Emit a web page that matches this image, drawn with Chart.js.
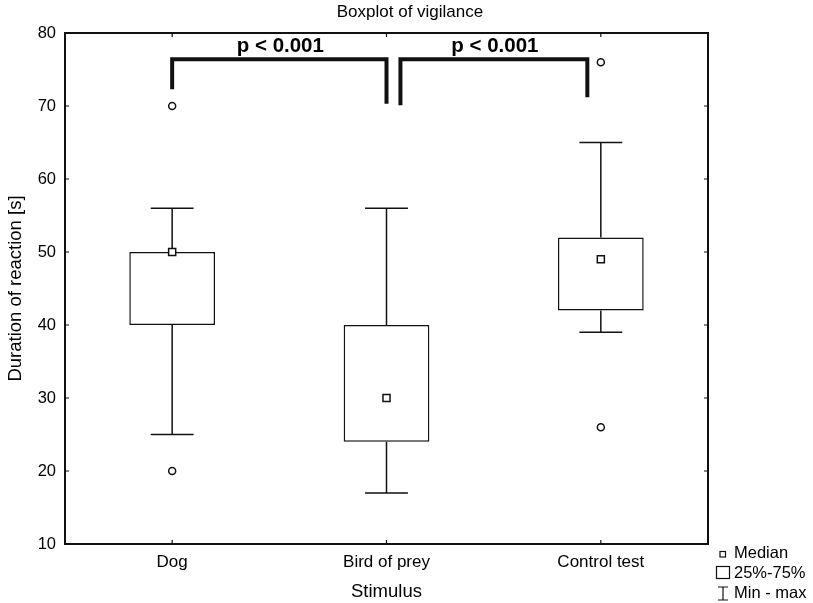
<!DOCTYPE html>
<html>
<head>
<meta charset="utf-8">
<script src="https://cdn.jsdelivr.net/npm/chart.js@4.4.0/dist/chart.umd.min.js"></script>
<style>
  body { margin: 0; background: #fff; }
  canvas { display: block; }
</style>
</head>
<body>
<canvas id="boxChart" width="813" height="603"></canvas>
<script>
// values
const categories = ['Dog', 'Bird of prey', 'Control test'];
const minVals = [25, 17, 39];
const q1Vals = [40, 24, 42];
const medianVals = [50, 30, 49];
const q3Vals = [50, 40, 52];
const maxVals = [56, 56, 65];
const outlierVals = [[70, 20], [], [76, 26]];
const yTicks = [10, 20, 30, 40, 50, 60, 70, 80];

// significance brackets (x in category index units, y in seconds)
const bracketFrom = [0, 1.065];
const bracketTo = [1.0, 1.937];
const bracketTop = [76.4, 76.4];
const bracketLeftEnd = [72.3, 70.1];
const bracketRightEnd = [70.3, 71.2];
const bracketText = ['p < 0.001', 'p < 0.001'];

const legendText = ['Median', '25%-75%', 'Min - max'];

const FONT = 'Arial, "Liberation Sans", sans-serif';

let outlierPoints = [];
outlierVals.forEach(function (list, i) {
  list.forEach(function (v) { outlierPoints.push({ x: categories[i], y: v }); });
});

// whiskers behind the boxes
const whiskerPlugin = {
  id: 'whiskers',
  beforeDatasetsDraw(chart) {
    const ctx = chart.ctx;
    const xs = chart.scales.x, ys = chart.scales.y;
    const catW = xs.getPixelForValue(1) - xs.getPixelForValue(0);
    ctx.save();
    ctx.strokeStyle = '#111';
    ctx.lineWidth = 1.5;
    categories.forEach(function (c, i) {
      const x = xs.getPixelForValue(i);
      const half = catW * 0.1;
      ctx.beginPath();
      ctx.moveTo(x, ys.getPixelForValue(q3Vals[i]));
      ctx.lineTo(x, ys.getPixelForValue(maxVals[i]));
      ctx.moveTo(x, ys.getPixelForValue(q1Vals[i]));
      ctx.lineTo(x, ys.getPixelForValue(minVals[i]));
      ctx.moveTo(x - half, ys.getPixelForValue(maxVals[i]));
      ctx.lineTo(x + half, ys.getPixelForValue(maxVals[i]));
      ctx.moveTo(x - half, ys.getPixelForValue(minVals[i]));
      ctx.lineTo(x + half, ys.getPixelForValue(minVals[i]));
      ctx.stroke();
    });
    ctx.restore();
  }
};

// frame, inner ticks, title, brackets, legend
const decorPlugin = {
  id: 'decor',
  afterDraw(chart) {
    const ctx = chart.ctx;
    const a = chart.chartArea;
    const xs = chart.scales.x, ys = chart.scales.y;
    ctx.save();
    ctx.strokeStyle = '#111';
    ctx.lineWidth = 2;
    ctx.strokeRect(a.left, a.top, a.right - a.left, a.bottom - a.top);

    ctx.lineWidth = 1.2;
    ctx.beginPath();
    yTicks.forEach(function (t) {
      const y = ys.getPixelForValue(t);
      ctx.moveTo(a.left, y); ctx.lineTo(a.left + 4, y);
      ctx.moveTo(a.right, y); ctx.lineTo(a.right - 4, y);
    });
    categories.forEach(function (c, i) {
      const x = xs.getPixelForValue(i);
      ctx.moveTo(x, a.bottom); ctx.lineTo(x, a.bottom - 4);
      ctx.moveTo(x, a.top); ctx.lineTo(x, a.top + 4);
    });
    ctx.stroke();

    // title
    ctx.fillStyle = '#000';
    ctx.font = '17px ' + FONT;
    ctx.textAlign = 'center';
    ctx.textBaseline = 'middle';
    ctx.fillText('Boxplot of vigilance', 410, 12);

    // brackets
    ctx.lineWidth = 4;
    ctx.lineCap = 'butt';
    ctx.lineJoin = 'miter';
    bracketFrom.forEach(function (f, i) {
      const x1 = xs.getPixelForValue(bracketFrom[i]);
      const x2 = xs.getPixelForValue(bracketTo[i]);
      const yt = ys.getPixelForValue(bracketTop[i]);
      ctx.beginPath();
      ctx.moveTo(x1, ys.getPixelForValue(bracketLeftEnd[i]));
      ctx.lineTo(x1, yt);
      ctx.lineTo(x2, yt);
      ctx.lineTo(x2, ys.getPixelForValue(bracketRightEnd[i]));
      ctx.stroke();
      ctx.font = 'bold 20.5px ' + FONT;
      ctx.textBaseline = 'alphabetic';
      ctx.fillText(bracketText[i], (x1 + x2) / 2 + 1, yt - 7);
    });

    // legend
    ctx.lineWidth = 1.2;
    ctx.strokeRect(720, 551.5, 5.5, 5.5);
    ctx.strokeRect(716.5, 566.5, 13, 12);
    ctx.beginPath();
    ctx.moveTo(718, 587); ctx.lineTo(728, 587);
    ctx.moveTo(723, 587); ctx.lineTo(723, 600);
    ctx.moveTo(718, 600); ctx.lineTo(728, 600);
    ctx.stroke();
    ctx.font = '16.5px ' + FONT;
    ctx.textAlign = 'left';
    ctx.textBaseline = 'middle';
    ctx.fillText(legendText[0], 734, 553);
    ctx.fillText(legendText[1], 734, 573);
    ctx.fillText(legendText[2], 734, 593);
    ctx.restore();
  }
};

const ctx = document.getElementById('boxChart').getContext('2d');
let boxChart = new Chart(ctx, {
  type: 'bar',
  data: {
    labels: categories,
    datasets: [
      {
        type: 'line',
        label: 'Median',
        data: medianVals,
        showLine: false,
        pointStyle: 'rect',
        pointRadius: 5,
        pointBackgroundColor: '#fff',
        pointBorderColor: '#111',
        pointBorderWidth: 1.5,
        order: 0
      },
      {
        type: 'line',
        label: 'Outliers',
        data: outlierPoints,
        showLine: false,
        pointStyle: 'circle',
        pointRadius: 3.5,
        pointBackgroundColor: '#fff',
        pointBorderColor: '#111',
        pointBorderWidth: 1.5,
        order: 0
      },
      {
        label: '25%-75%',
        data: q1Vals.map(function (q, i) { return [q, q3Vals[i]]; }),
        backgroundColor: '#fff',
        borderColor: '#111',
        borderWidth: 1.5,
        borderSkipped: false,
        barPercentage: 0.4,
        categoryPercentage: 1,
        order: 1
      }
    ]
  },
  options: {
    responsive: false,
    animation: false,
    layout: { padding: { top: 33, right: 105, left: 0, bottom: 0 } },
    plugins: {
      legend: { display: false },
      title: { display: false },
      tooltip: { enabled: false }
    },
    scales: {
      x: {
        offset: true,
        grid: { display: false, drawTicks: false },
        border: { display: false },
        ticks: { color: '#000', font: { family: FONT, size: 17 }, padding: 8, maxRotation: 0 },
        title: { display: true, text: 'Stimulus', color: '#000', font: { family: FONT, size: 18.5 }, padding: { top: 0, bottom: 0 } },
        afterFit: function (scale) { scale.height = 59; }
      },
      y: {
        min: 10,
        max: 80,
        afterBuildTicks: function (scale) { scale.ticks = yTicks.map(function (v) { return { value: v }; }); },
        grid: { display: false, drawTicks: false },
        border: { display: false },
        ticks: { color: '#000', font: { family: FONT, size: 16.5 }, padding: 9 },
        title: { display: true, text: 'Duration of reaction [s]', color: '#000', font: { family: FONT, size: 18.5 }, padding: 5 },
        afterFit: function (scale) { scale.width = 65; }
      }
    }
  },
  plugins: [whiskerPlugin, decorPlugin]
});
</script>
</body>
</html>
